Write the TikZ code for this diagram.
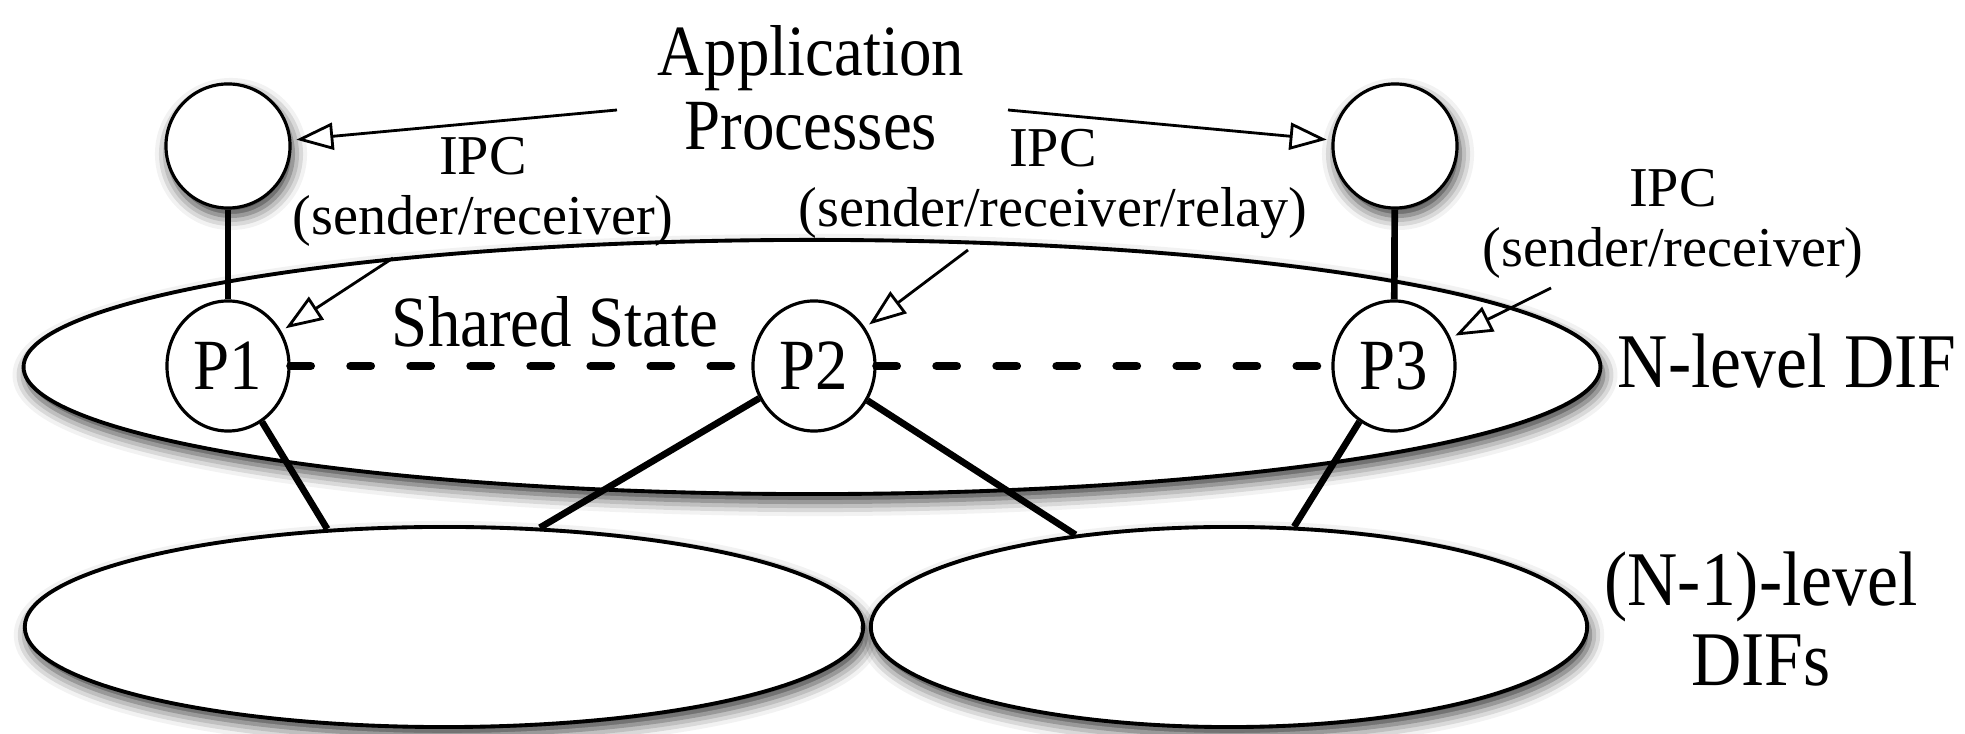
\documentclass[tikz,border=0pt]{standalone}
\usepackage{fontspec}
\setmainfont{Liberation Serif}
\newfontfamily\narrowserif{Liberation Serif}[FakeStretch=0.9]
\usetikzlibrary{shapes.geometric,arrows.meta,shadows.blur}

\begin{document}
\begin{tikzpicture}[x=0.01cm,y=-0.01cm,
    soft/.style={blur shadow={shadow xshift=0.03cm,shadow yshift=-0.08cm,shadow blur radius=0.14cm,shadow opacity=80}},
    dif/.style={ellipse,draw,line width=1.1pt,fill=white,inner sep=0pt,soft},
    app/.style={circle,draw,line width=0.9pt,fill=white,minimum size=1.24cm,inner sep=0pt,soft},
    proc/.style={ellipse,draw,line width=0.9pt,fill=white,minimum width=1.22cm,minimum height=1.3cm,inner sep=0pt,font=\narrowserif\fontsize{20.5}{23}\selectfont},
    link/.style={line width=1.9pt},
    shared/.style={line width=2.5pt,line cap=round,dash pattern=on 0.2cm off 0.4cm},
    ipc/.style={line width=0.8pt,-{Triangle[open,length=0.37cm,width=0.27cm]},shorten >=0.05cm},
    big/.style={font=\narrowserif\fontsize{20.5}{21}\selectfont,align=center,inner sep=0pt},
    side/.style={font=\narrowserif\fontsize{22}{23}\selectfont,align=center,inner sep=0pt},
    small/.style={font=\fontsize{16}{17}\selectfont,align=center,inner sep=0pt}]

\useasboundingbox (0,0) rectangle (1965,734);

% DIFs
\node[dif,minimum width=15.76cm,minimum height=2.54cm] (ndif) at (812,367) {};
\node[dif,minimum width=8.38cm,minimum height=2cm] (lowa) at (444,627) {};
\node[dif,minimum width=7.16cm,minimum height=2cm] (lowb) at (1229,627) {};

% processes
\node[app] (app1) at (228,146) {};
\node[app] (app2) at (1395,146) {};
\node[proc] (p1) at (228,366) {P1};
\node[proc] (p2) at (814,366) {P2};
\node[proc] (p3) at (1394,366) {P3};

% labels
\node[big] (apps) at (811,88) {Application\\Processes};
\node[small] (ipc1) at (483,192) {IPC\\(sender/receiver)};
\node[small] (ipc2) at (1053,184) {IPC\\(sender/receiver/relay)};
\node[small] (ipc3) at (1673,224) {IPC\\(sender/receiver)};
\node[big,anchor=base] (state) at (555,347) {Shared State};
\node[side,anchor=base] (nlabel) at (1787,388) {N-level DIF};
\node[side] (nlow) at (1761,619) {(N-1)-level\\DIFs};

\coordinate (a1) at (617,110);
\coordinate (a2) at (1008,110);
\coordinate (i1) at (393,258);
\coordinate (i2) at (968,250);
\coordinate (i3) at (1551,288);

\draw[link] (app1) -- (p1);
\draw[link] (app2) -- (p3);
\draw[link] (p1) -- (lowa.140);
\draw[link] (p2) -- (lowa.46);
\draw[link] (p2) -- (lowb.149);
\draw[link] (p3) -- (lowb.57);

\draw[shared] (p1) -- (p2);
\draw[shared] (p2) -- (p3);

\draw[ipc] (a1) -- (app1);
\draw[ipc] (a2) -- (app2);
\draw[ipc] (i1) -- (p1);
\draw[ipc] (i2) -- (p2);
\draw[ipc] (i3) -- (p3);
\end{tikzpicture}
\end{document}
